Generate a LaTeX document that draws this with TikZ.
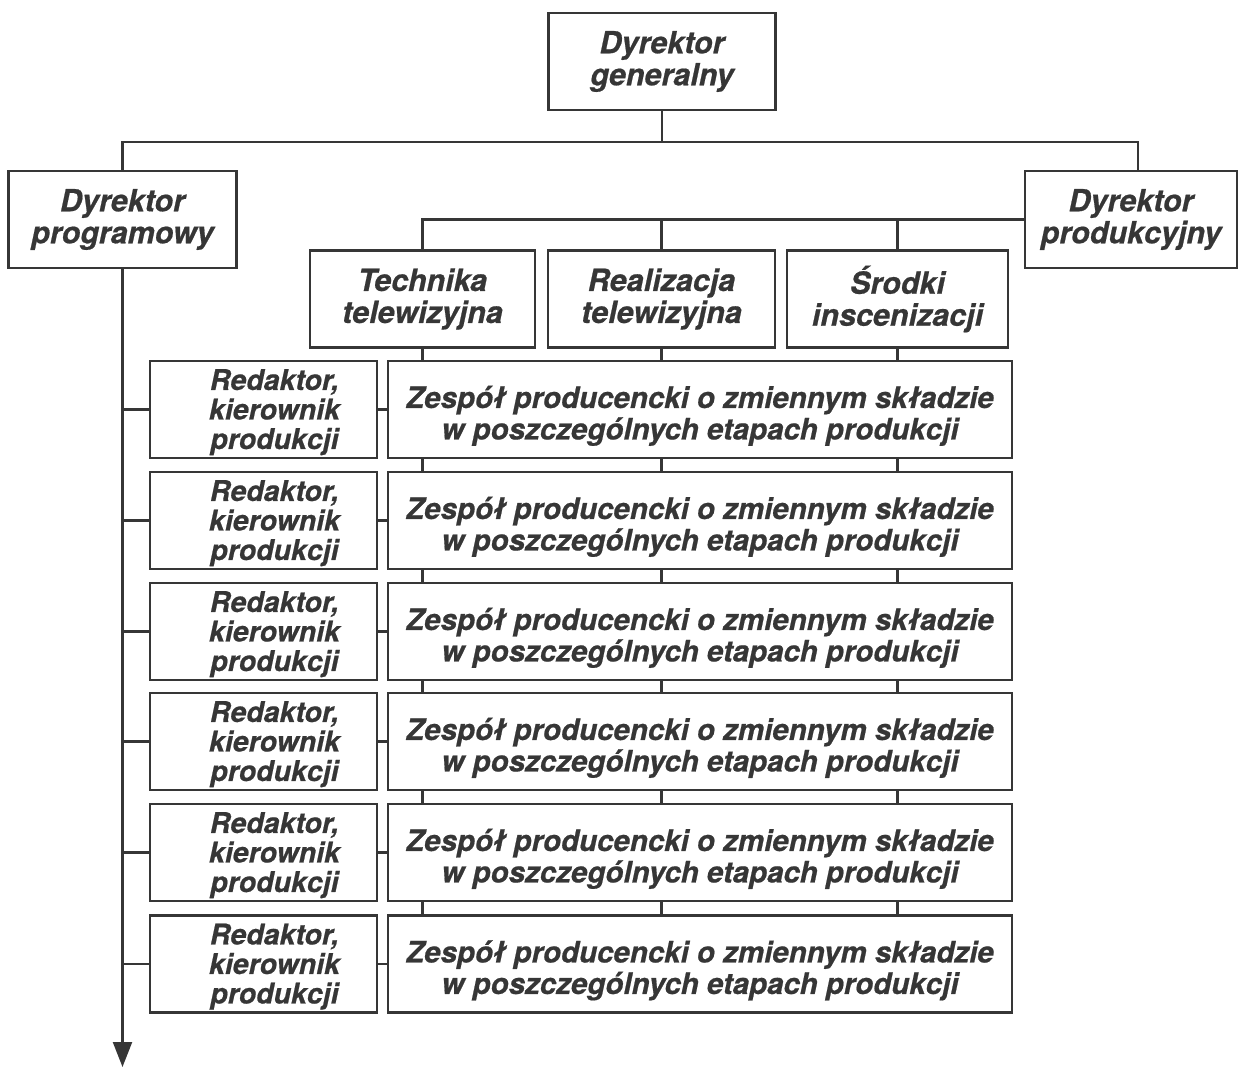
\documentclass[tikz,border=0pt]{standalone}
\usepackage{fontspec}
\setmainfont{TeX Gyre Heros}[BoldItalicFeatures={FakeBold=0.6}]
\usetikzlibrary{arrows.meta}
\definecolor{ink}{HTML}{363636}
\begin{document}
\begin{tikzpicture}[x=1pt,y=-1pt,
  box/.style={draw=ink, line width=2.5pt, text=ink, align=center, inner sep=0pt,
              font=\fontsize{30.5}{32}\selectfont\bfseries\itshape},
  head/.style={box, minimum height=97pt},
  editor/.style={box, minimum width=227pt, minimum height=97pt,
              font=\fontsize{28.5}{28}\selectfont\bfseries\itshape},
  team/.style={box, minimum width=624pt, minimum height=97pt,
              font=\fontsize{29.5}{31}\selectfont\bfseries\itshape},
  link/.style={draw=ink, line width=2.2pt},
]
\useasboundingbox (0,0) rectangle (1239,1068);

% management
\node[head, minimum width=227pt] (gen)  at (662,61.5)   {Dyrektor\\generalny};
\node[head, minimum width=228pt] (prog) at (122.5,219.5) {Dyrektor\\programowy};
\node[head, minimum width=212pt] (prod) at (1131,219.5)  {Dyrektor\\produkcyjny};

% production departments
\node[head, minimum width=225pt] (tech) at (422.5,299) {Technika\\telewizyjna};
\node[head, minimum width=227pt] (real) at (661.5,299) {Realizacja\\telewizyjna};
\node[head, minimum width=221pt] (srod) at (897.5,299) {Środki\\inscenizacji};

% editors and production teams
\foreach \i/\y in {1/409.5, 2/520.5, 3/631.5, 4/741.5, 5/852.5, 6/964}{
  \node[editor] (r\i) at (263.5,\y)
    {\hspace*{22pt}\raisebox{-10pt}[0pt][0pt]{\begin{tabular}{@{}c@{}}Redaktor,\\kierownik\\produkcji\end{tabular}}};
  \node[team] (z\i) at (700,\y)
    {\raisebox{-14pt}[0pt][0pt]{\begin{tabular}{@{}c@{}}Zespół producencki o zmiennym składzie\\w poszczególnych etapach produkcji\end{tabular}}};
}

% top-level connections
\draw[link] (gen.south) -- ++(0,31) coordinate (bus);
\draw[link] (prog.north) |- (bus) -| ([xshift=7pt]prod.north);
\draw[link] (prod.west) -| (tech.north);
\draw[link] (real.north) -- (real.north |- prod.west);
\draw[link] (srod.north) -- (srod.north |- prod.west);

% departments run through every team
\foreach \d in {tech, real, srod}{
  \draw[link] (\d.south) -- (\d.south |- z1.north);
  \foreach \a/\b in {1/2, 2/3, 3/4, 4/5, 5/6}{
    \draw[link] (\d.south |- z\a.south) -- (\d.south |- z\b.north);
  }
}

% programme line with editors
\coordinate (end) at (122.5,1067);
\draw[link, -{Triangle[length=25pt, width=19pt]}] (prog.south) -- (end);
\foreach \i in {1,...,6}{
  \draw[link] (prog.south |- r\i.west) -- (r\i.west);
  \draw[link] (r\i.east) -- (z\i.west);
}
\end{tikzpicture}
\end{document}
